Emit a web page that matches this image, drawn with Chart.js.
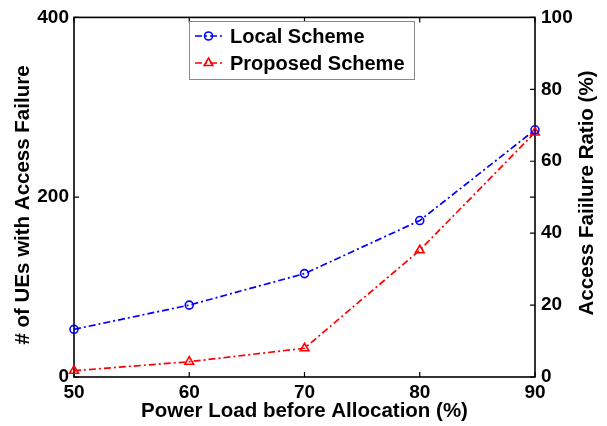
<!DOCTYPE html>
<html><head><meta charset="utf-8">
<script src="https://cdn.jsdelivr.net/npm/chart.js@4"></script>
<style>html,body{margin:0;padding:0;background:#fff}#wrap{width:607px;height:426px}</style>
</head><body><div id="wrap"><canvas id="c" width="607" height="426"></canvas></div>
<script>
const loads = [50, 60, 70, 80, 90];
const localScheme = [53, 80, 115, 174, 275];
const proposedScheme = [7, 17, 32, 141, 272];
const seriesNames = ['Local Scheme', 'Proposed Scheme'];
const leftTicks = [0, 200, 400];
const rightTicks = [0, 20, 40, 60, 80, 100];
const xTicks = [50, 60, 70, 80, 90];
const xTitle = 'Power Load before Allocation (%)';
const leftTitle = '# of UEs with Access Failure';
const rightTitle = 'Access Faiilure Ratio (%)';

const FONT = "'Liberation Sans', Arial, Helvetica, sans-serif";
const tickFont = {family: FONT, size: 19, weight: 'bold'};
const TITLE_CSS = 'bold 20.5px ' + FONT;
const DASH = [7, 3, 2, 3];

const framePlugin = {
  id: 'frame',
  beforeDatasetsDraw(chart) {
    const {ctx, chartArea: a, scales} = chart;
    ctx.save();
    ctx.strokeStyle = '#000';
    ctx.lineWidth = 1.6;
    ctx.setLineDash([]);
    ctx.strokeRect(a.left, a.top, a.right - a.left, a.bottom - a.top);
    const L = 5;
    ctx.lineWidth = 1.2;
    ctx.beginPath();
    xTicks.forEach(v => {
      const px = scales.x.getPixelForValue(v);
      ctx.moveTo(px, a.bottom); ctx.lineTo(px, a.bottom - L);
      ctx.moveTo(px, a.top); ctx.lineTo(px, a.top + L);
    });
    leftTicks.forEach(v => {
      const py = scales.y.getPixelForValue(v);
      ctx.moveTo(a.left, py); ctx.lineTo(a.left + L, py);
      ctx.moveTo(a.right, py); ctx.lineTo(a.right - L, py);
    });
    rightTicks.forEach(v => {
      const py = scales.y1.getPixelForValue(v);
      ctx.moveTo(a.right, py); ctx.lineTo(a.right - L, py);
    });
    ctx.stroke();
    // axis titles
    ctx.fillStyle = '#000';
    ctx.font = TITLE_CSS;
    ctx.textAlign = 'center';
    ctx.textBaseline = 'alphabetic';
    ctx.fillText(xTitle, (a.left + a.right) / 2, 417);
    ctx.save();
    ctx.translate(29, 205);
    ctx.rotate(-Math.PI / 2);
    ctx.fillText(leftTitle, 0, 0);
    ctx.restore();
    ctx.save();
    ctx.translate(593, 193);
    ctx.rotate(-Math.PI / 2);
    ctx.fillText(rightTitle, 0, 0);
    ctx.restore();
    ctx.restore();
  }
};

const legendPlugin = {
  id: 'boxLegend',
  afterDatasetsDraw(chart) {
    const {ctx} = chart;
    ctx.save();
    const bx = 189, by = 21, bw = 225, bh = 58;
    ctx.fillStyle = '#fff';
    ctx.fillRect(bx, by, bw, bh);
    ctx.strokeStyle = '#8a8a8a';
    ctx.lineWidth = 1;
    ctx.strokeRect(bx + 0.5, by + 0.5, bw, bh);
    chart.data.datasets.forEach((ds, i) => {
      const y = 36 + i * 27;
      ctx.strokeStyle = ds.borderColor;
      ctx.lineWidth = ds.borderWidth;
      ctx.setLineDash(DASH);
      ctx.beginPath(); ctx.moveTo(195, y); ctx.lineTo(222, y); ctx.stroke();
      ctx.setLineDash([]);
      ctx.fillStyle = 'rgba(0,0,0,0)';
      ctx.strokeStyle = ds.borderColor;
      ctx.lineWidth = ds.pointBorderWidth;
      Chart.helpers.drawPoint(ctx, {
        pointStyle: ds.pointStyle, radius: ds.pointRadius, borderWidth: ds.pointBorderWidth
      }, 208.5, y);
      ctx.fillStyle = '#000';
      ctx.font = 'bold 20px ' + FONT;
      ctx.textBaseline = 'middle';
      ctx.textAlign = 'left';
      ctx.fillText(ds.label, 230, y + 1);
    });
    ctx.restore();
  }
};

const mk = ys => loads.map((x, i) => ({x, y: ys[i]}));

new Chart(document.getElementById('c'), {
  type: 'line',
  data: {
    datasets: [
      {label: seriesNames[0], data: mk(localScheme), yAxisID: 'y', borderColor: '#0000ff',
       backgroundColor: 'rgba(0,0,0,0)', borderWidth: 1.7, borderDash: DASH, pointStyle: 'circle',
       pointRadius: 4, pointBorderWidth: 1.6, pointBackgroundColor: 'rgba(0,0,0,0)', clip: false, tension: 0},
      {label: seriesNames[1], data: mk(proposedScheme), yAxisID: 'y', borderColor: '#ff0000',
       backgroundColor: 'rgba(0,0,0,0)', borderWidth: 1.7, borderDash: DASH, pointStyle: 'triangle',
       pointRadius: 5, pointBorderWidth: 1.6, pointBackgroundColor: 'rgba(0,0,0,0)', clip: false, tension: 0}
    ]
  },
  options: {
    responsive: false, animation: false, devicePixelRatio: 1,
    layout: {padding: {top: 14, left: 0, right: 0, bottom: 0}},
    plugins: {legend: {display: false}, tooltip: {enabled: false}},
    scales: {
      x: {type: 'linear', min: 50, max: 90,
          afterBuildTicks: s => { s.ticks = xTicks.map(v => ({value: v})); },
          ticks: {font: tickFont, color: '#000', padding: 4, maxRotation: 0},
          grid: {display: false, drawTicks: false}, border: {display: false},
          title: {display: false},
          afterFit: s => { s.height = 49; }},
      y: {position: 'left', min: 0, max: 400,
          afterBuildTicks: s => { s.ticks = leftTicks.map(v => ({value: v})); },
          ticks: {font: tickFont, color: '#000', padding: 5},
          grid: {display: false, drawTicks: false}, border: {display: false},
          title: {display: false},
          afterFit: s => { s.width = 74; }},
      y1: {position: 'right', min: 0, max: 100,
          afterBuildTicks: s => { s.ticks = rightTicks.map(v => ({value: v})); },
          ticks: {font: tickFont, color: '#000', padding: 6},
          grid: {display: false, drawTicks: false}, border: {display: false},
          title: {display: false},
          afterFit: s => { s.width = 72; }}
    }
  },
  plugins: [framePlugin, legendPlugin]
});
</script></body></html>
